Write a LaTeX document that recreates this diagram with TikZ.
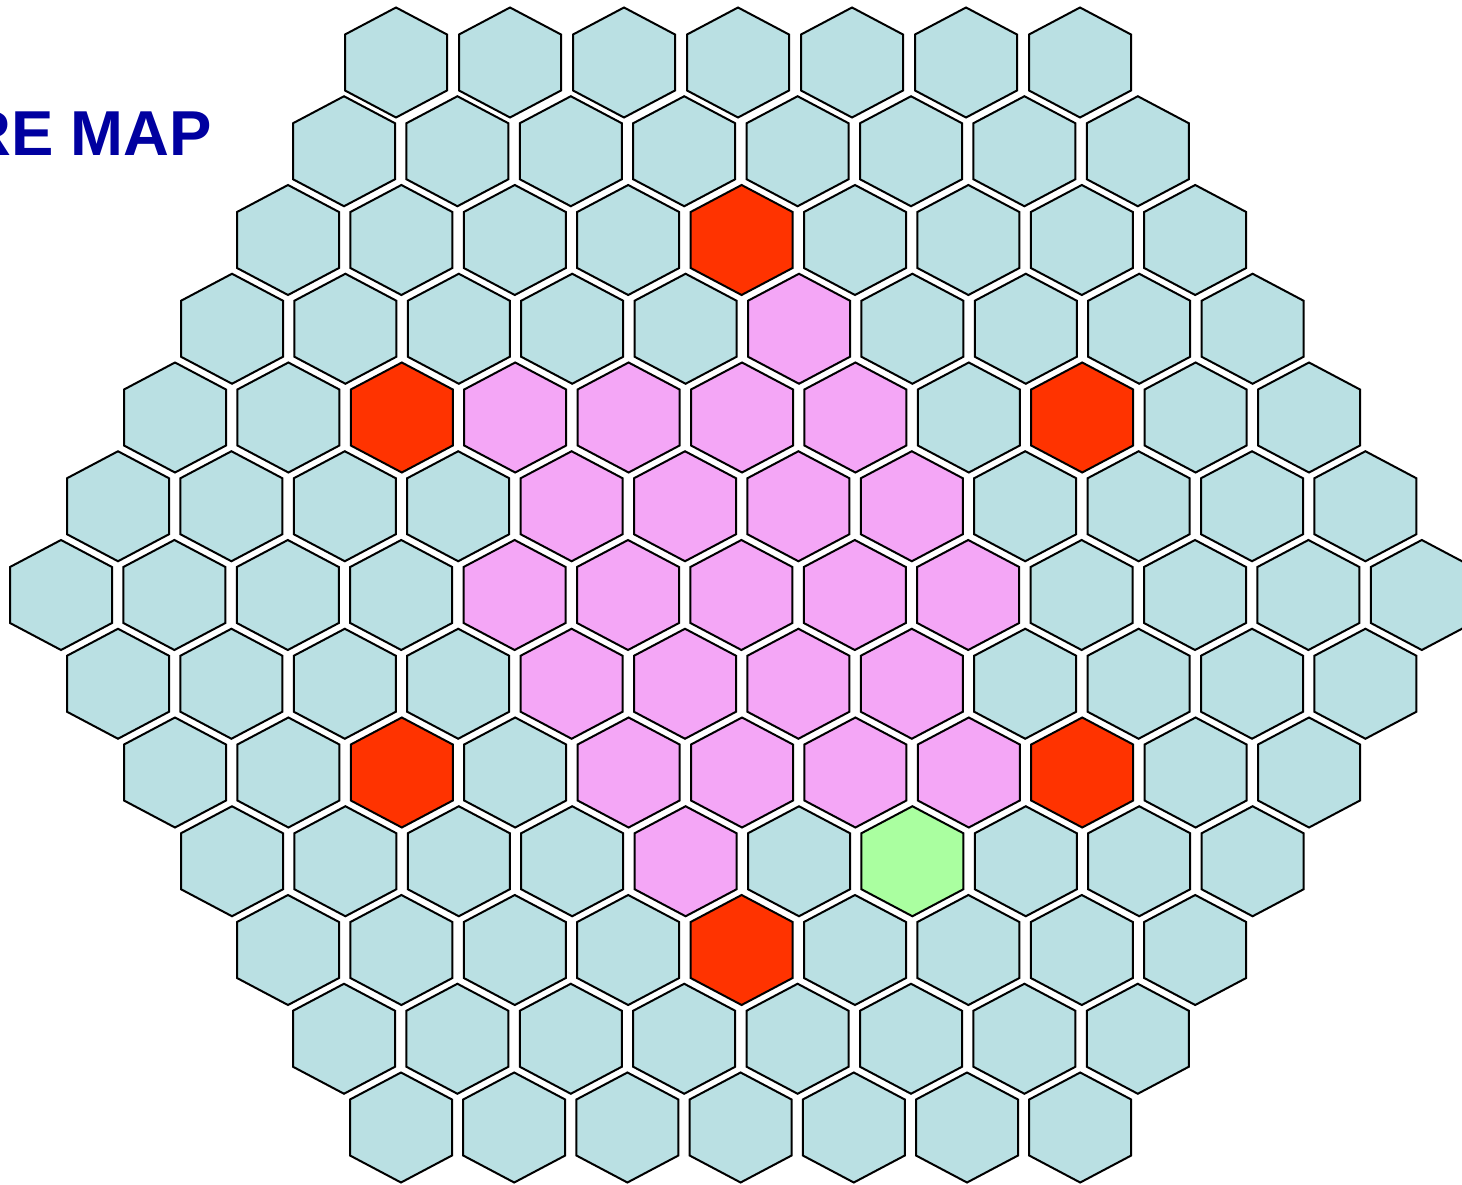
\documentclass[tikz,border=0pt]{standalone}
\usepackage{fontspec}
\setmainfont{Liberation Sans}
\definecolor{hexblue}{RGB}{186,224,227}
\definecolor{hexpink}{RGB}{244,166,246}
\definecolor{hexred}{RGB}{255,51,0}
\definecolor{hexgreen}{RGB}{170,255,160}
\definecolor{titleblue}{RGB}{0,0,160}
\newcommand\hexcell[3]{\expandafter\def\csname hc-#1-#2\endcsname{#3}}
\hexcell{3}{5}{hexred}
\hexcell{4}{6}{hexpink}
\hexcell{5}{3}{hexred}
\hexcell{5}{4}{hexpink}\hexcell{5}{5}{hexpink}\hexcell{5}{6}{hexpink}\hexcell{5}{7}{hexpink}
\hexcell{5}{9}{hexred}
\hexcell{6}{5}{hexpink}\hexcell{6}{6}{hexpink}\hexcell{6}{7}{hexpink}\hexcell{6}{8}{hexpink}
\hexcell{7}{5}{hexpink}\hexcell{7}{6}{hexpink}\hexcell{7}{7}{hexpink}\hexcell{7}{8}{hexpink}\hexcell{7}{9}{hexpink}
\hexcell{8}{5}{hexpink}\hexcell{8}{6}{hexpink}\hexcell{8}{7}{hexpink}\hexcell{8}{8}{hexpink}
\hexcell{9}{3}{hexred}
\hexcell{9}{5}{hexpink}\hexcell{9}{6}{hexpink}\hexcell{9}{7}{hexpink}\hexcell{9}{8}{hexpink}
\hexcell{9}{9}{hexred}
\hexcell{10}{5}{hexpink}
\hexcell{10}{7}{hexgreen}
\hexcell{11}{5}{hexred}
\begin{document}
\begin{tikzpicture}[x=1pt,y=-1pt,
  hexstyle/.style={draw=black, line width=2pt, line join=miter},
  titlestyle/.style={anchor=base west, inner sep=0pt, text=titleblue,
    font=\fontsize{63.5}{70}\selectfont\bfseries}]
\useasboundingbox (0,0) rectangle (1462,1185);
\foreach \r/\n/\s/\d in {1/7/396/114, 2/8/344/113.4, 3/9/288/113.4, 4/10/232/113.4,
                      5/11/175/113.4, 6/12/118/113.4, 7/13/61/113.4, 8/12/118/113.4,
                      9/11/175/113.4, 10/10/232/113.4, 11/9/288/113.4, 12/8/344/113.4,
                      13/7/401/113.2} {
  \foreach \c in {1,...,\n} {
    \pgfmathsetmacro\cx{\s+(\c-1)*\d}
    \pgfmathsetmacro\cy{62.5+(\r-1)*88.75}
    \ifcsname hc-\r-\c\endcsname
      \edef\col{\csname hc-\r-\c\endcsname}%
    \else
      \def\col{hexblue}%
    \fi
    \draw[hexstyle, fill=\col] (\cx,\cy) ++(0,-55) -- ++(51,27) -- ++(0,56)
      -- ++(-51,27) -- ++(-51,-27) -- ++(0,-56) -- cycle;
  }
}
\node[titlestyle] (title) at (-35,156) {RE MAP};
\end{tikzpicture}
\end{document}
